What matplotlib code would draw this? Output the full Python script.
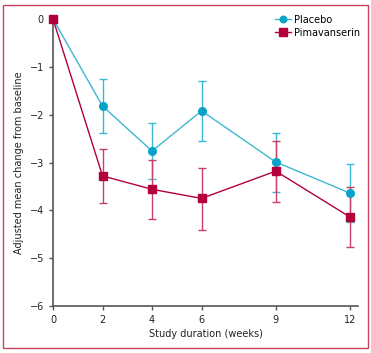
import matplotlib; matplotlib.use('Agg')
import matplotlib.pyplot as plt
from matplotlib.patches import Rectangle

# Data
weeks = [0, 2, 4, 6, 9, 12]
placebo = [0, -1.82, -2.76, -1.92, -2.99, -3.64]
placebo_lo = [0, -2.38, -3.35, -2.55, -3.62, -4.24]
placebo_hi = [0, -1.26, -2.18, -1.30, -2.38, -3.03]
pima = [0, -3.28, -3.56, -3.75, -3.18, -4.14]
pima_lo = [0, -3.85, -4.18, -4.41, -3.83, -4.77]
pima_hi = [0, -2.72, -2.95, -3.12, -2.55, -3.51]

C_PLA = '#0aa3c8'
C_PLA_L = '#3cb8d2'
C_PIM = '#b3003b'
C_PIM_L = '#c94065'

plt.rcParams['font.family'] = ['DejaVu Sans']
plt.rcParams['font.size'] = 7

fig = plt.figure(figsize=(3.71, 3.53), dpi=100)
ax = fig.add_axes([0.1429, 0.1331, 0.822, 0.813])

def draw(y, lo, hi, line_c, mk_c, err_c, marker, ms, label):
    yerr = [[v - l for v, l in zip(y, lo)], [h - v for v, h in zip(y, hi)]]
    ax.errorbar(weeks[1:], y[1:], yerr=[yerr[0][1:], yerr[1][1:]], fmt='none',
                ecolor=err_c, elinewidth=1.0, capsize=3, capthick=1.0, zorder=2)
    ax.plot(weeks, y, color=line_c, linewidth=1.0, marker=marker, ms=ms,
            mfc=mk_c, mec=mk_c, label=label, clip_on=False, zorder=3)

draw(placebo, placebo_lo, placebo_hi, C_PLA_L, C_PLA, C_PLA_L, 'o', 5.5, 'Placebo')
draw(pima, pima_lo, pima_hi, C_PIM, C_PIM, C_PIM_L, 's', 6, 'Pimavanserin')

ax.set_xlim(0, 12.32)
ax.set_ylim(-6, 0)
ax.set_xticks(weeks)
ax.set_yticks([0, -1, -2, -3, -4, -5, -6])
ax.set_yticklabels(['0', '\u22121', '\u22122', '\u22123', '\u22124', '\u22125', '\u22126'])
for s in ['top', 'right']:
    ax.spines[s].set_visible(False)
for s in ['left', 'bottom']:
    ax.spines[s].set_color('#555555')
    ax.spines[s].set_linewidth(1.2)
ax.tick_params(direction='out', length=3, width=1, color='#555555', labelcolor='#222222')
ax.set_xlabel('Study duration (weeks)', color='#222222', labelpad=3)
ax.set_ylabel('Adjusted mean change from baseline', color='#222222', labelpad=4)

ax.legend(loc='upper right', bbox_to_anchor=(1.035, 1.045), frameon=False, fontsize=7,
          handlelength=1.6, handletextpad=0.3, labelspacing=0.3, markerscale=0.85)

fig.patches.append(Rectangle((3 / 371, 5 / 353), 365 / 371, 343 / 353,
                             transform=fig.transFigure, fill=False,
                             edgecolor='#c8415f', linewidth=1.0))

fig.savefig('out.png', dpi=100)
